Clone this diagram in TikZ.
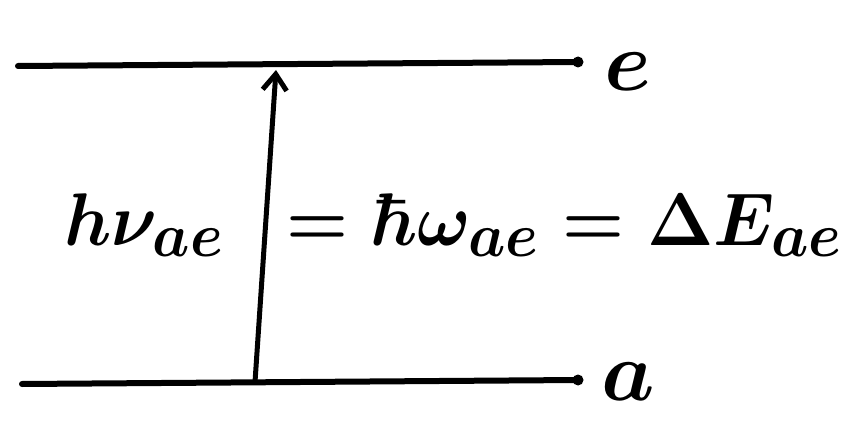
\documentclass[tikz,border=0pt]{standalone}
\usetikzlibrary{arrows.meta}
\tikzset{
  level/.style = {line width=6pt, line cap=round},
  enddot/.style= {circle, fill, inner sep=0pt, minimum size=11pt},
  trans/.style = {-{Straight Barb[length=16pt, width=24pt, line width=5pt]}, line width=5pt},
  lvllbl/.style= {font=\Huge\boldmath, scale=3.4, inner sep=0pt},
  eq/.style    = {font=\Huge\boldmath, xscale=2.85, yscale=3.0, inner sep=0pt, anchor=base west},
}
\begin{document}
\begin{tikzpicture}[x=1pt, y=-1pt]
	\useasboundingbox (0,0) rectangle (861,446);
	% energy levels
	\coordinate (eL) at (18,66);  \coordinate (eR) at (578,62);
	\coordinate (aL) at (22,384); \coordinate (aR) at (578,380);
	\draw[level] (eL) -- (eR);
	\draw[level] (aL) -- (aR);
	\node[enddot] (edot) at (eR) {};
	\node[enddot] (adot) at (aR) {};
	\node[lvllbl] (elbl) at (628,72) {$e$};
	\node[lvllbl] (albl) at (628,382) {$a$};
	% transition
	\coordinate (ta) at (255,382);
	\coordinate (te) at (276,70);
	\draw[trans] (ta) -- (te);
	% relation
	\node[eq] (hnu)   at (64,245)  {$h\nu_{ae}$};
	\node[eq] (hbarw) at (286,245) {$=\hbar\omega_{ae}$};
	\node[eq] (dE)    at (562,245) {$=\Delta E_{ae}$};
\end{tikzpicture}
\end{document}
